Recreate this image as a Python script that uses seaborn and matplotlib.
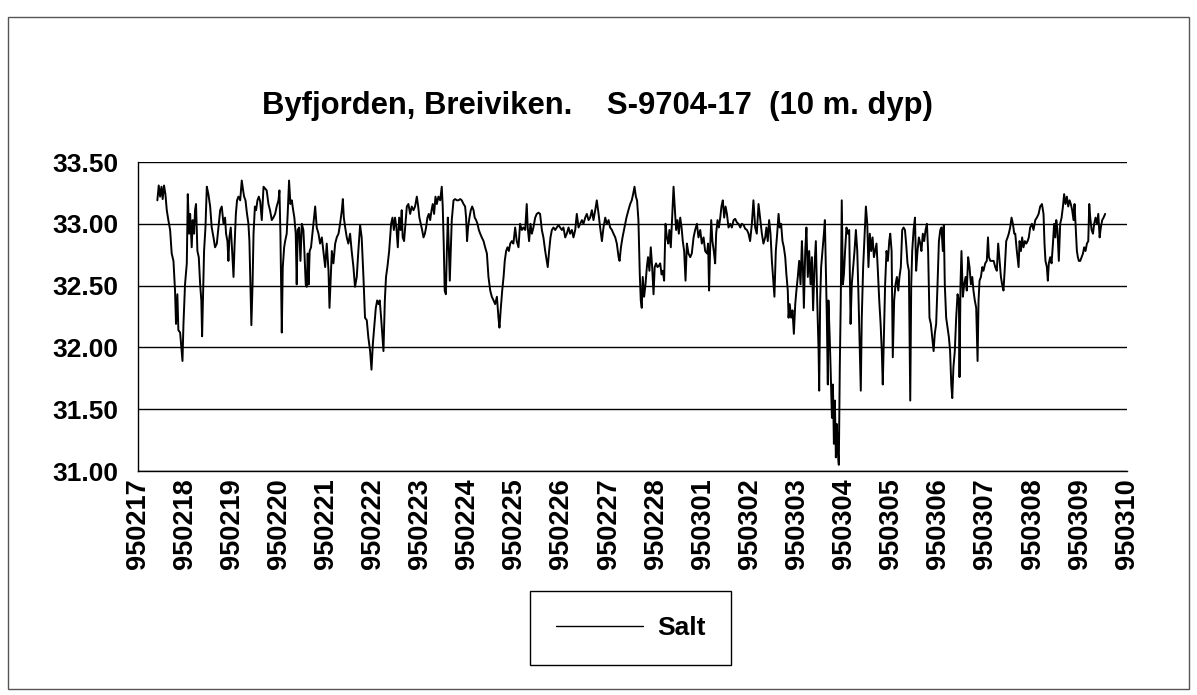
import numpy as np
import pandas as pd
import seaborn as sns
import matplotlib.pyplot as plt
from matplotlib.lines import Line2D
from matplotlib.patches import Rectangle

# hours after 950217 00:00
hours = [
    10.1, 10.8, 11.5, 12.2, 12.8, 13.5, 14.2, 14.9, 15.7, 16.6, 17.4, 18.3, 19.1, 19.6, 20.3, 20.8,
    21.7, 22.5, 22.9, 23.4, 24.2, 25.1, 25.6, 26.3, 26.8, 27.6, 28.1, 28.8, 29.3, 29.8, 30.5, 31.2,
    31.9, 32.5, 32.9, 33.4, 33.9, 34.6, 35.3, 36.1, 37.0, 37.8, 38.7, 39.5, 40.4, 41.2, 42.1, 42.9,
    43.8, 44.6, 45.1, 45.8, 46.3, 46.8, 47.5, 48.2, 48.9, 49.4, 50.1, 50.7, 51.4, 52.3, 53.1, 53.8,
    54.3, 55.0, 55.7, 56.5, 57.0, 57.5, 58.0, 58.6, 59.1, 59.8, 60.4, 61.1, 61.8, 62.5, 63.3, 64.2,
    65.8, 66.7, 67.5, 68.4, 69.2, 70.1, 70.9, 71.8, 72.3, 72.8, 73.5, 74.0, 74.7, 75.2, 76.0, 76.5,
    77.2, 77.9, 78.6, 79.3, 79.9, 80.6, 81.1, 81.6, 82.3, 83.0, 83.7, 84.5, 85.0, 85.7, 86.2, 86.7,
    87.2, 87.7, 88.4, 89.1, 89.8, 90.5, 91.3, 92.2, 93.0, 93.9, 94.7, 95.6, 96.4, 97.3, 97.8, 98.3,
    99.0, 99.8, 100.7, 101.5, 102.4, 103.2, 104.1, 104.6, 105.1, 105.8, 106.6, 107.4, 108.3, 109.1,
    110.0, 110.8, 111.7, 112.5, 113.4, 114.2, 115.1, 115.9, 116.8, 117.6, 118.5, 119.2, 119.9, 120.7,
    121.4, 122.1, 122.8, 123.4, 124.1, 124.8, 125.3, 126.0, 126.6, 127.3, 128.2,
    129.2, 129.9, 130.6, 131.2, 131.9, 132.6, 133.3, 134.0, 134.6, 135.1, 135.8, 136.5, 137.2, 138.0,
    138.9, 139.7, 140.6, 141.4, 142.3, 143.0, 143.6, 144.3, 145.0, 145.7, 146.4, 147.0, 147.7, 148.4,
    149.1, 149.8, 150.4, 151.1, 151.8, 152.5, 153.3, 154.2, 155.0, 155.5, 156.0, 156.5, 157.1, 157.6,
    158.1, 158.6, 159.1, 159.6, 160.1, 161.0, 161.8, 162.7, 163.5, 164.4, 165.2, 166.1, 166.9, 167.4,
    167.9, 168.4, 169.1, 169.8, 170.5, 171.2, 171.8, 172.5, 173.2, 173.9, 174.6, 175.4, 176.3, 177.1,
    178.0, 178.8, 179.7, 180.5, 181.4, 182.2, 183.1, 183.9, 184.4, 185.1, 185.8, 186.5, 187.1, 187.8,
    188.5, 189.2, 189.9, 190.7, 191.5,
    192.4, 193.2, 194.1, 194.9, 195.8, 196.6, 197.5, 198.3, 198.8, 199.5, 200.2, 200.9, 201.7, 202.6,
    203.4, 204.3, 205.1, 206.0, 206.8, 207.7, 208.5, 209.0, 209.7, 210.4, 211.1, 211.9, 212.8, 213.6,
    214.5, 215.3, 216.2, 217.0, 217.9, 218.7, 219.6, 220.4, 221.3, 222.1, 223.0, 223.8, 224.7, 225.5,
    226.4, 227.2, 228.1, 228.9, 229.8, 230.6, 231.5, 232.3, 233.2, 234.0, 234.9, 235.7, 236.6, 237.4,
    238.3, 239.1, 240.0, 240.8, 241.7, 242.5, 243.4, 244.2, 245.1, 245.6, 246.3, 247.1, 248.1, 249.1,
    250.1, 251.0, 251.8, 252.5, 253.2, 253.9, 254.5, 255.2, 255.9, 256.4, 256.9,
    257.4, 258.1, 258.8, 259.5, 260.1, 260.8, 261.5, 262.2, 262.9, 263.5, 264.2, 264.9, 265.6, 266.3,
    267.0, 267.6, 268.3, 269.0, 269.7, 270.4, 271.0, 271.7, 272.4, 273.1, 273.8, 274.4, 275.1, 275.8,
    276.5, 277.2, 277.8, 278.5, 279.2, 279.9, 280.7, 281.6, 282.4, 283.3, 284.1, 285.0, 285.8, 286.7,
    287.5, 288.4, 289.2, 290.1, 290.7, 291.2, 291.7, 292.3, 292.9, 293.6, 294.3, 294.8, 295.5, 296.2,
    296.9, 297.5, 298.2, 298.9, 299.6, 300.3, 301.1, 302.0, 302.8, 303.7, 304.5, 305.4, 306.2, 307.1,
    307.9, 308.8, 309.6, 310.5, 311.3, 312.1, 313.0, 313.8, 314.7, 315.5, 316.4, 317.2, 318.1, 318.9,
    319.8, 320.4, 321.1, 321.8, 322.5, 323.2, 323.8, 324.5, 325.2, 325.9, 326.6, 327.2, 327.9, 328.6,
    329.3, 330.0, 330.6, 331.3, 331.7, 332.3, 333.0, 333.7, 334.4, 335.1, 335.7, 336.4, 337.1, 337.8,
    338.5, 339.0, 339.5, 340.2, 340.8, 341.5, 342.2, 342.9, 343.6, 344.2, 344.9, 345.6, 346.3, 347.0,
    347.3, 347.8, 348.3, 349.0, 349.7, 350.2, 350.7, 351.2, 351.7, 352.0, 352.6, 353.1, 353.8, 354.3,
    354.8, 355.3, 355.8, 356.3, 356.8, 357.3, 357.8, 358.3, 358.8, 359.4, 359.9, 360.5, 361.2, 361.9,
    362.6, 363.3, 363.9, 364.6, 365.3, 366.0, 366.7, 367.3, 368.0, 368.5, 369.0, 369.7, 370.4, 371.1,
    371.8, 372.4, 373.1, 373.8, 374.5, 375.2, 375.8, 376.5, 377.2, 377.9, 378.6, 379.2, 379.7, 380.3,
    380.9, 381.6, 382.3, 383.0,
    383.5, 384.2, 384.8, 385.5, 386.2, 386.9, 387.6, 388.2, 388.9, 389.6, 390.3, 391.0, 391.6, 392.3,
    393.0, 393.7, 394.2, 394.7, 395.4, 396.1, 396.7, 397.4, 398.1, 398.8, 399.4, 400.1, 400.8, 401.5,
    402.2, 402.8, 403.5, 404.2, 404.9, 405.6, 406.2, 406.9, 407.6, 408.3, 409.0, 409.6, 410.3, 410.8,
    411.3, 412.0, 412.7, 413.4, 414.0, 414.6, 415.1, 415.7, 416.4, 417.1, 417.8, 418.5, 418.8, 419.3,
    419.8, 420.5, 421.2, 421.9, 422.5, 423.2, 423.9, 424.6, 425.3, 425.9, 426.6, 427.3, 428.0, 428.5,
    429.0, 429.7, 430.4, 431.0, 431.9, 432.7, 433.3, 433.8, 434.5, 435.3, 436.2, 437.0, 437.8, 438.5,
    439.2, 439.9, 440.5, 441.2, 441.9, 442.6, 443.3, 443.9, 444.6, 445.3, 446.0, 446.7,
    447.2, 448.0, 448.9, 449.4, 450.1, 450.7, 451.4, 452.1, 452.8, 453.5, 454.1, 454.8, 455.7, 456.5,
    457.4, 458.2, 459.1, 459.9, 460.8, 461.6, 462.1, 462.6, 463.3, 463.8, 464.3, 465.0, 465.7, 466.4,
    467.0, 467.6, 468.1, 468.7, 469.4, 470.1, 470.8, 471.5, 472.1, 472.8, 473.5, 474.2, 474.9, 475.5,
    476.2, 476.9, 477.4, 477.9, 478.6, 479.1, 479.6, 480.3, 481.0, 481.7, 482.3, 483.0, 483.7, 484.4,
    484.9, 485.4, 486.1, 486.8, 487.4, 488.1, 488.8, 489.5, 490.2, 490.8, 491.5, 492.2, 493.0,
]

salt = [
    33.19, 33.31, 33.22, 33.30, 33.20, 33.31, 33.24, 33.11, 33.03, 32.95, 32.76, 32.70, 32.46, 32.19, 32.43, 32.14,
    32.12, 31.97, 31.89, 32.19, 32.51, 32.68, 33.24, 32.92, 33.08, 32.81, 33.03, 32.92, 33.11, 33.16, 32.78, 32.73,
    32.51, 32.38, 32.09, 32.43, 32.78, 32.97, 33.30, 33.24, 33.14, 32.97, 32.89, 32.81, 32.84, 32.97, 33.11, 33.14,
    33.00, 33.05, 32.92, 32.86, 32.70, 32.89, 32.97, 32.78, 32.57, 32.81, 33.08, 33.19, 33.22, 33.19, 33.35, 33.27,
    33.22, 33.19, 33.09, 33.00, 32.86, 32.51, 32.18, 32.51, 32.92, 33.14, 33.11, 33.19, 33.22, 33.18, 33.03, 33.30,
    33.27, 33.16, 33.11, 33.03, 33.05, 33.08, 33.14, 33.19, 33.27, 32.92, 32.12, 32.65, 32.81, 32.86, 32.92, 33.08,
    33.35, 33.16, 33.19, 33.11, 33.05, 32.92, 32.51, 32.95, 32.97, 32.70, 33.00, 32.95, 32.78, 32.51, 32.49, 32.76,
    32.51, 32.78, 32.81, 32.92, 33.03, 33.14, 32.97, 32.92, 32.84, 32.89, 32.78, 32.65, 32.84, 32.62, 32.32, 32.51,
    32.78, 32.68, 32.84, 32.89, 32.92, 33.00, 33.11, 33.20, 33.05, 32.97, 32.89, 32.84, 32.92, 32.78,
    32.65, 32.49, 32.57, 32.78, 32.99, 32.89, 32.57, 32.24, 32.22, 32.08, 31.97, 31.82, 32.03, 32.19,
    32.32, 32.38, 32.35, 32.38, 32.24, 32.08, 31.97, 32.38, 32.57, 32.65, 32.78,
    33.00, 33.05, 32.95, 33.05, 32.97, 32.81, 33.05, 32.95, 33.11, 32.89, 32.86, 33.00, 33.14, 33.16,
    33.08, 33.14, 33.11, 33.14, 33.22, 33.14, 33.05, 33.00, 32.95, 32.89, 32.92, 32.97, 33.05, 33.08,
    33.03, 33.11, 33.16, 33.08, 33.22, 33.16, 33.22, 33.19, 33.30, 33.14, 32.84, 32.46, 32.43, 32.78,
    33.05, 32.81, 32.54, 32.78, 33.03, 33.19, 33.20, 33.19, 33.19, 33.20, 33.19, 33.16, 33.14, 33.05,
    32.86, 32.97, 33.05, 33.11, 33.14, 33.11, 33.05, 33.03, 33.00, 32.95, 32.92, 32.89, 32.86, 32.81,
    32.76, 32.57, 32.46, 32.41, 32.38, 32.35, 32.41, 32.24, 32.16, 32.32, 32.46, 32.57, 32.70, 32.78,
    32.81, 32.78, 32.84, 32.86, 32.84,
    32.97, 32.86, 32.81, 33.00, 32.95, 32.97, 32.95, 33.16, 32.97, 32.86, 33.00, 32.92, 32.97, 33.05,
    33.08, 33.09, 33.08, 32.95, 32.89, 32.78, 32.70, 32.65, 32.78, 32.89, 32.95, 32.97, 32.95, 32.97,
    32.99, 32.97, 32.95, 32.97, 32.89, 32.92, 32.97, 32.92, 32.95, 32.89, 32.95, 33.08, 32.97, 33.00,
    33.03, 33.00, 33.05, 33.08, 33.03, 33.05, 33.11, 33.03, 33.11, 33.19, 33.08, 32.97, 32.86, 32.97,
    33.05, 33.00, 33.03, 32.97, 32.95, 32.92, 32.89, 32.84, 32.73, 32.70, 32.81, 32.89, 32.97, 33.05,
    33.11, 33.16, 33.19, 33.24, 33.30, 33.22, 33.19, 33.03, 32.59, 32.38, 32.32,
    32.57, 32.41, 32.51, 32.65, 32.73, 32.62, 32.81, 32.65, 32.43, 32.65, 32.68, 32.65, 32.66, 32.68,
    32.59, 32.62, 32.54, 33.00, 32.89, 32.84, 32.95, 32.81, 33.05, 33.30, 33.11, 32.95, 33.03, 32.92,
    33.05, 32.97, 32.86, 32.78, 32.54, 32.84, 32.76, 32.73, 32.76, 32.89, 32.95, 33.00, 32.89, 32.95,
    32.84, 32.89, 32.78, 32.76, 32.84, 32.46, 32.78, 33.03, 32.86, 32.78, 32.68, 32.92, 33.03, 32.97,
    33.05, 33.14, 33.19, 33.05, 33.14, 33.08, 32.97, 33.00, 32.97, 33.03, 33.04, 33.01, 33.00, 32.97,
    33.00, 32.99, 32.96, 32.95, 32.92, 32.86, 33.00, 33.19, 32.97, 32.92, 33.16, 33.05, 32.92, 32.84,
    32.89, 32.97, 32.86, 33.03, 32.92, 32.70, 32.57, 32.41, 32.78, 32.92, 33.08, 32.97, 33.00, 32.86,
    32.81, 32.73, 32.59, 32.46, 32.24, 32.35, 32.24, 32.30, 32.11, 32.35, 32.46, 32.57, 32.70, 32.51,
    32.86, 32.65, 32.32, 32.78, 32.97, 32.57, 32.78, 32.51, 32.73, 32.30, 32.65, 32.86, 32.38, 31.97,
    31.65, 32.38, 32.65, 32.78, 32.92, 33.03, 32.65, 32.24, 31.70, 32.38, 32.11, 31.84, 31.43, 31.70,
    31.22, 31.57, 31.11, 31.38, 31.16, 31.05, 31.84, 32.38, 33.19, 32.51, 32.59, 32.78, 32.97, 32.92,
    32.95, 32.19, 32.51, 32.65, 32.78, 32.95, 32.78, 32.43, 31.97, 31.65, 32.24, 32.65, 32.89, 33.14,
    33.00, 32.65, 32.92, 32.78, 32.89, 32.73, 32.78, 32.84, 32.62, 32.38, 32.19, 31.97, 31.70, 32.11,
    32.51, 32.78, 32.70, 32.86,
    32.92, 32.78, 31.92, 32.38, 32.51, 32.57, 32.46, 32.57, 32.65, 32.95, 32.97, 32.95, 32.84, 32.68,
    32.62, 31.57, 32.51, 32.78, 32.95, 33.05, 32.62, 32.78, 32.89, 32.84, 32.78, 32.92, 32.86, 32.95,
    33.00, 32.78, 32.24, 32.19, 32.08, 31.97, 32.11, 32.19, 32.51, 32.86, 32.95, 32.97, 32.78, 32.99,
    32.51, 32.24, 32.16, 32.08, 31.97, 31.70, 31.59, 31.84, 31.97, 32.24, 32.43, 32.38, 31.76, 32.51,
    32.78, 32.41, 32.51, 32.57, 32.46, 32.73, 32.65, 32.51, 32.57, 32.46, 32.38, 32.32, 31.89, 32.38,
    32.54, 32.57, 32.65, 32.62, 32.68, 32.70, 32.89, 32.73, 32.70, 32.70, 32.70, 32.65, 32.62, 32.84,
    32.70, 32.57, 32.51, 32.46, 32.65, 32.86, 32.89, 32.92, 32.97, 33.05, 33.00, 32.92,
    32.92, 32.78, 32.65, 32.86, 32.78, 32.89, 32.81, 32.86, 32.84, 32.86, 32.89, 32.97, 33.00, 32.95,
    33.03, 33.05, 33.08, 33.14, 33.16, 33.08, 32.84, 32.70, 32.65, 32.54, 32.68, 32.73, 32.68, 32.84,
    33.00, 32.89, 33.03, 32.95, 32.70, 33.00, 33.05, 33.14, 33.24, 33.16, 33.22, 33.14, 33.19, 33.16,
    33.11, 33.03, 33.16, 33.00, 32.78, 32.73, 32.70, 32.70, 32.73, 32.76, 32.81, 32.78, 32.84, 32.86,
    33.16, 33.05, 32.95, 32.92, 33.00, 33.05, 33.00, 33.08, 32.89, 32.97, 33.03, 33.05, 33.08,
]

day_labels = ['950217', '950218', '950219', '950220', '950221', '950222', '950223', '950224',
              '950225', '950226', '950227', '950228', '950301', '950302', '950303', '950304',
              '950305', '950306', '950307', '950308', '950309', '950310']
y_ticks = [31.0, 31.5, 32.0, 32.5, 33.0, 33.5]

assert len(hours) == len(salt), (len(hours), len(salt))

sns.set_style('white')
plt.rcParams['font.family'] = ['Liberation Sans', 'DejaVu Sans']
plt.rcParams['text.color'] = 'black'
plt.rcParams['xtick.color'] = 'black'
plt.rcParams['ytick.color'] = 'black'
plt.rcParams['xtick.labelcolor'] = 'black'
plt.rcParams['ytick.labelcolor'] = 'black'

df = pd.DataFrame({'day': np.array(hours) / 24.0, 'Salt': salt})

fig = plt.figure(figsize=(11.97, 6.95), dpi=100)
ax = fig.add_axes([0.1149, 0.3223, 0.8264, 0.4446])
sns.lineplot(data=df, x='day', y='Salt', color='black', linewidth=1.4, ax=ax,
             estimator=None, sort=False, legend=False)

ax.set_xlim(0, len(day_labels) - 1)
ax.set_ylim(y_ticks[0], y_ticks[-1])
ax.set_xticks(range(len(day_labels)))
ax.set_xticklabels(day_labels, rotation=90, fontsize=19.5, fontweight='bold', color='black')
ax.set_yticks(y_ticks)
ax.set_yticklabels([f'{v:.2f}' for v in y_ticks], fontsize=19, fontweight='bold', color='black')
ax.set_xlabel('')
ax.set_ylabel('')
ax.yaxis.grid(True, color='black', linewidth=1.0)
ax.xaxis.grid(False)
for side in ['top', 'right']:
    ax.spines[side].set_visible(False)
for side in ['left', 'bottom']:
    ax.spines[side].set_color('black')
    ax.spines[side].set_linewidth(1.0)
ax.tick_params(axis='x', direction='inout', length=8, width=1, color='black', pad=1)
ax.tick_params(axis='y', direction='out', length=5, width=1, color='black', pad=8.5)

fig.text(0.499, 0.847, 'Byfjorden, Breiviken.    S-9704-17  (10 m. dyp)',
         ha='center', va='center', fontsize=22.3, fontweight='bold', color='black')

handle = Line2D([], [], color='black', linewidth=1.0)
leg = fig.legend([handle], ['Salt'], loc='center', bbox_to_anchor=(0.527, 0.0964),
                 frameon=True, fancybox=False, edgecolor='black', framealpha=1,
                 prop={'size': 19, 'weight': 'bold'}, handlelength=3.3,
                 handletextpad=0.57, borderpad=0.95, labelcolor='black')
leg.get_frame().set_linewidth(1.0)

fig.patches.append(Rectangle((8 / 1197, 1 - 689 / 695), 1181 / 1197, 672 / 695,
                             transform=fig.transFigure, fill=False,
                             edgecolor='#555555', linewidth=1.0))

fig.savefig('out.png', dpi=100)
